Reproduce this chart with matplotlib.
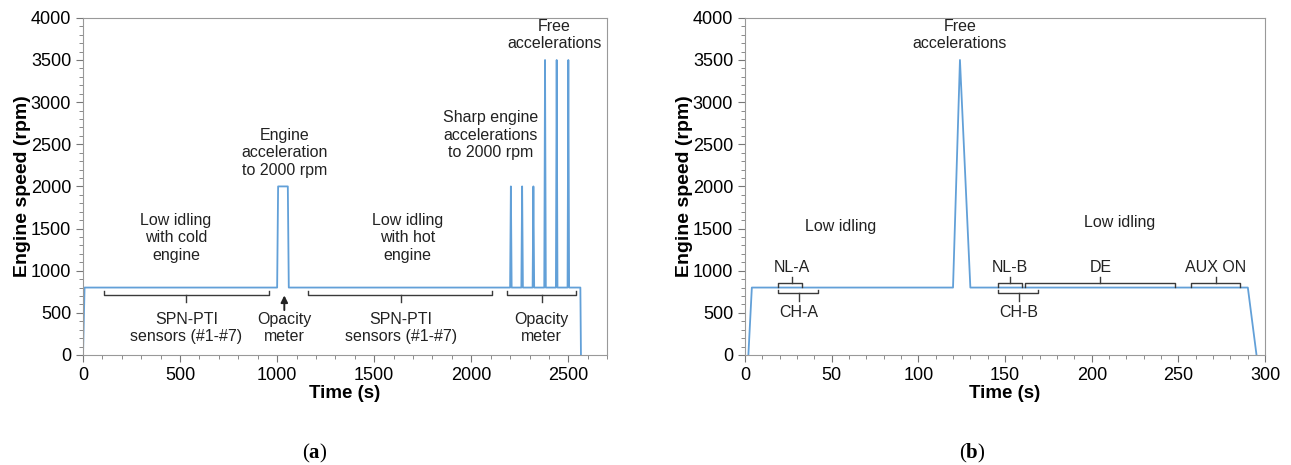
import numpy as np
import matplotlib.pyplot as plt
from matplotlib.ticker import MultipleLocator

plt.rcParams['font.family'] = ['Liberation Sans', 'DejaVu Sans']
plt.rcParams['mathtext.fontset'] = 'custom'
plt.rcParams['mathtext.bf'] = 'Liberation Serif:bold'

# (a) PTI test cycle
time_a = [0, 8, 1000, 1005, 1055, 1060,
          2200, 2204, 2208, 2258, 2262, 2266, 2316, 2320, 2324,
          2376, 2380, 2384, 2436, 2440, 2444, 2496, 2500, 2504,
          2562, 2565]
speed_a = [0, 800, 800, 2000, 2000, 800,
           800, 2000, 800, 800, 2000, 800, 800, 2000, 800,
           800, 3500, 800, 800, 3500, 800, 800, 3500, 800,
           800, 0]

# (b) short cycle
time_b = [2, 4, 120, 124, 130, 290, 295]
speed_b = [0, 800, 800, 3500, 800, 800, 0]

# brackets: (start, end, centre, level)
brackets_a = [(107, 958, 533, 713), (1161, 2107, 1636, 713), (2184, 2541, 2363, 713)]
labels_a = ['SPN-PTI\nsensors (#1-#7)', 'SPN-PTI\nsensors (#1-#7)', 'Opacity\nmeter']
brackets_b_up = [(19, 33, 27, 850), (146, 160, 153, 850), (161.5, 248, 205, 850), (257, 285.5, 271.5, 850)]
labels_b_up = ['NL-A', 'NL-B', 'DE', 'AUX ON']
brackets_b_dn = [(19, 42, 31, 730), (146, 169, 158, 730)]
labels_b_dn = ['CH-A', 'CH-B']

line_col = '#62a0d8'
brk_col = '#3a3a3a'
fs_txt = 11.5


def bracket(ax, x0, x1, xc, y, up, tick, txt, ty):
    # up=True: bracket above the line (ends hang down, tick up)
    s = -1 if up else 1
    ax.plot([x0, x0, x1, x1], [y + s * 45, y, y, y + s * 45], color=brk_col, lw=1)
    ax.plot([xc, xc], [y, y - s * tick], color=brk_col, lw=1)
    ax.text(xc, ty, txt, ha='center', va='center', fontsize=fs_txt, color='#222222')


def style(ax, xmax, xmajor, xminor):
    ax.set_xlim(0, xmax)
    ax.set_ylim(0, 4000)
    ax.xaxis.set_major_locator(MultipleLocator(xmajor))
    ax.xaxis.set_minor_locator(MultipleLocator(xminor))
    ax.yaxis.set_major_locator(MultipleLocator(500))
    ax.yaxis.set_minor_locator(MultipleLocator(100))
    ax.tick_params(which='both', direction='out', color='#777777', labelsize=13)
    ax.tick_params(which='major', length=5)
    ax.tick_params(which='minor', length=3)
    for sp in ax.spines.values():
        sp.set_color('#999999')
    ax.set_xlabel('Time (s)', fontsize=13.5, fontweight='bold', labelpad=1)
    ax.set_ylabel('Engine speed (rpm)', fontsize=14, fontweight='bold', labelpad=0)


fig = plt.figure(figsize=(12.91, 4.65), dpi=100)
ax1 = fig.add_axes([0.0643, 0.2366, 0.406, 0.725])
ax2 = fig.add_axes([0.577, 0.2366, 0.403, 0.725])

ax1.plot(time_a, speed_a, color=line_col, lw=1.3)
style(ax1, 2700, 500, 100)
for (x0, x1, xc, y), txt in zip(brackets_a, labels_a):
    bracket(ax1, x0, x1, xc, y, False, 80, txt, 320)
ax1.annotate('', xy=(1037, 740), xytext=(1037, 500),
             arrowprops=dict(arrowstyle='-|>', color='#222222', lw=1.4, mutation_scale=10))
ax1.text(1037, 320, 'Opacity\nmeter', ha='center', va='center', fontsize=fs_txt, color='#222222')
ax1.text(479, 1390, 'Low idling\nwith cold\nengine', ha='center', va='center', fontsize=fs_txt, color='#222222')
ax1.text(1673, 1390, 'Low idling\nwith hot\nengine', ha='center', va='center', fontsize=fs_txt, color='#222222')
ax1.text(1037, 2400, 'Engine\nacceleration\nto 2000 rpm', ha='center', va='center', fontsize=fs_txt, color='#222222')
ax1.text(2101, 2606, 'Sharp engine\naccelerations\nto 2000 rpm', ha='center', va='center', fontsize=fs_txt, color='#222222')
ax1.text(2427, 3796, 'Free\naccelerations', ha='center', va='center', fontsize=fs_txt, color='#222222')

ax2.plot(time_b, speed_b, color=line_col, lw=1.3)
style(ax2, 300, 50, 10)
for (x0, x1, xc, y), txt in zip(brackets_b_up, labels_b_up):
    bracket(ax2, x0, x1, xc, y, True, 80, txt, 1040)
for (x0, x1, xc, y), txt in zip(brackets_b_dn, labels_b_dn):
    bracket(ax2, x0, x1, xc, y, False, 90, txt, 500)
ax2.text(55, 1530, 'Low idling', ha='center', va='center', fontsize=fs_txt, color='#222222')
ax2.text(216, 1570, 'Low idling', ha='center', va='center', fontsize=fs_txt, color='#222222')
ax2.text(124, 3800, 'Free\naccelerations', ha='center', va='center', fontsize=fs_txt, color='#222222')

fig.text(315 / 1291, 1 - 453 / 465, r'($\mathbf{a}$)', ha='center', va='center',
         fontsize=15, family='Liberation Serif')
fig.text(972 / 1291, 1 - 453 / 465, r'($\mathbf{b}$)', ha='center', va='center',
         fontsize=15, family='Liberation Serif')

fig.savefig('out.png', dpi=100)
